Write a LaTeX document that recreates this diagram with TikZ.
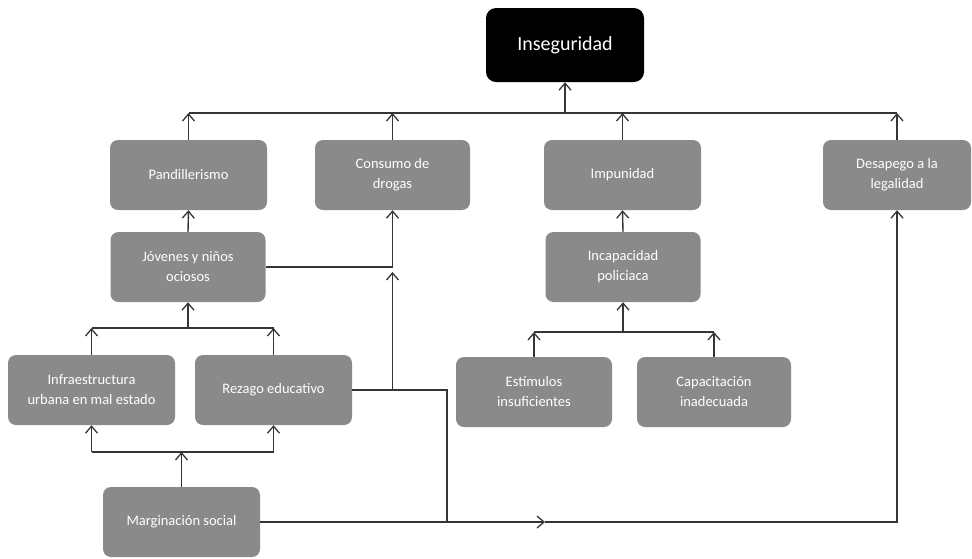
\documentclass[tikz,border=0pt]{standalone}
\usepackage{fontspec}
\setmainfont{Carlito}
\usetikzlibrary{arrows.meta}
\definecolor{boxgray}{HTML}{8A8A8A}
\definecolor{linegray}{HTML}{353535}
\tikzset{
  box/.style={rectangle, rounded corners=8pt, fill=boxgray, text=white,
    minimum height=70pt, inner sep=2pt, align=center,
    font=\fontsize{14.5}{20}\selectfont},
  topbox/.style={box, fill=black, minimum width=158pt, minimum height=74pt,
    rounded corners=10pt, font=\fontsize{20}{24}\selectfont},
  link/.style={draw=linegray, line width=1.4pt},
  arr/.style={link, -{Straight Barb[length=7pt,width=12pt,line width=1.3pt]}},
}
\begin{document}
\begin{tikzpicture}[x=1pt,y=-1pt]
\useasboundingbox (0,0) rectangle (972,558);
% nodes
\node[topbox] (ins) at (565,45) {Inseguridad};
\node[box, minimum width=157pt] (pand) at (188.5,175) {Pandillerismo};
\node[box, minimum width=155pt] (cons) at (392.5,175) {Consumo de\\drogas};
\node[box, minimum width=157pt] (imp) at (622.5,175) {Impunidad};
\node[box, minimum width=148pt] (desa) at (897,175) {Desapego a la\\legalidad};
\node[box, minimum width=155pt] (jov) at (188,267) {Jóvenes y niños\\ociosos};
\node[box, minimum width=155pt] (inc) at (623,267) {Incapacidad\\policiaca};
\node[box, minimum width=167pt] (infra) at (91.5,390) {Infraestructura\\urbana en mal estado};
\node[box, minimum width=157pt] (rez) at (273.5,390) {Rezago educativo};
\node[box, minimum width=156pt] (est) at (534,392) {Estímulos\\insuficientes};
\node[box, minimum width=154pt] (cap) at (714,392) {Capacitación\\inadecuada};
\node[box, minimum width=157pt] (marg) at (181.5,522) {Marginación social};
% junction coordinates
\coordinate (b0) at (565,113);
\coordinate (b1) at (188,328);
\coordinate (b2) at (181.5,452);
\coordinate (b3) at (623,332);
\coordinate (c1) at (392.5,272);
\coordinate (c2) at (447,522);
\coordinate (c3) at (545,522);
% top level
\draw[arr] (b0) -- (ins.south);
\draw[link] (pand.north |- b0) -- (desa.north |- b0);
\draw[arr] (pand.north) -- (pand.north |- b0);
\draw[arr] (cons.north) -- (cons.north |- b0);
\draw[arr] (imp.north) -- (imp.north |- b0);
\draw[arr] (desa.north) -- (desa.north |- b0);
% left branch
\draw[arr] (jov.north) -- (pand.south);
\draw[arr] (jov.east) -| (cons.south);
\draw[link] (infra.north |- b1) -- (rez.north |- b1);
\draw[arr] (infra.north) -- (infra.north |- b1);
\draw[arr] (rez.north) -- (rez.north |- b1);
\draw[arr] (b1) -- (jov.south);
\draw[link] (infra.south |- b2) -- (rez.south |- b2);
\draw[arr] (infra.south |- b2) -- (infra.south);
\draw[arr] (rez.south |- b2) -- (rez.south);
\draw[arr] (marg.north) -- (b2);
\draw[arr] (rez.east) -| (c1);
\draw[link] (rez.east) -| (c2);
% bottom line
\draw[arr] (marg.east) -- (c3);
\draw[arr] (c3) -| (desa.south);
% right branch
\draw[arr] (inc.north) -- (imp.south);
\draw[link] (est.north |- b3) -- (cap.north |- b3);
\draw[arr] (est.north) -- (est.north |- b3);
\draw[arr] (cap.north) -- (cap.north |- b3);
\draw[arr] (b3) -- (inc.south);
\end{tikzpicture}
\end{document}
